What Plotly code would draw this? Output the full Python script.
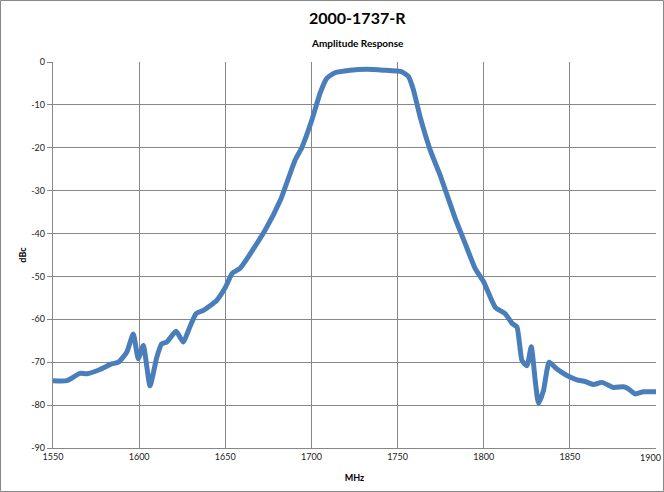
import plotly.graph_objects as go

freq_mhz = [1550, 1558, 1565.7, 1569.6, 1577.3, 1584, 1588, 1592.8, 1596.6, 1599.5, 1602.4,
            1606.3, 1610.2, 1613.1, 1616, 1621.4, 1625.7, 1628.6, 1633, 1637.3, 1645, 1650,
            1654, 1658.6, 1673, 1682, 1690.5, 1694.4, 1700.2, 1705, 1708.9, 1713.7, 1722.5,
            1732, 1741.8, 1752.5, 1756.3, 1759.2, 1763.1, 1769, 1774.7, 1783.4, 1789.2, 1795,
            1800, 1806.7, 1812.5, 1816.4, 1819.3, 1822.2, 1825.1, 1827.6, 1829.9, 1831.8,
            1834.7, 1838, 1842.5, 1848.3, 1854.1, 1858.9, 1863.7, 1868.6, 1875.3, 1881.1,
            1884, 1887.9, 1892.7, 1900]
amp_dbc = [-74.3, -74.3, -72.6, -72.7, -71.7, -70.4, -70.0, -67.7, -63.4, -69.2, -66.1,
           -75.5, -68.9, -65.7, -65.3, -62.8, -65.3, -62.6, -58.7, -57.9, -55.6, -52.6,
           -49.3, -48.1, -39.3, -32.2, -22.9, -20.0, -13.6, -7.3, -3.8, -2.5, -1.9,
           -1.7, -1.9, -2.3, -3.4, -6.5, -12.8, -20.6, -26.4, -36.4, -42.3, -48.1,
           -51.3, -57.2, -58.7, -60.9, -61.8, -69.6, -70.8, -66.4, -74.3, -79.6,
           -76.6, -70.0, -71.6, -73.1, -74.1, -74.5, -75.2, -74.7, -75.9, -75.7,
           -76.2, -77.4, -76.9, -76.9]

x_ticks = [1550, 1600, 1650, 1700, 1750, 1800, 1850, 1900]
y_ticks = [0, -10, -20, -30, -40, -50, -60, -70, -80, -90]

FONT = "Lato"
W, H = 664, 492
L, R, T, B = 53, 8, 62, 44
PW, PH = W - L - R, H - T - B
TICKFONT = dict(family=FONT, size=9, color="#222222")

fig = go.Figure()
fig.add_trace(go.Scatter(
    x=freq_mhz, y=amp_dbc, mode="lines",
    line=dict(color="#4a7ebb", width=5, shape="spline", smoothing=0.5),
    showlegend=False, hoverinfo="skip"))

fig.update_layout(
    width=W, height=H,
    margin=dict(l=L, r=R, t=T, b=B, autoexpand=False),
    paper_bgcolor="white", plot_bgcolor="white",
    font=dict(family=FONT, color="#222222"),
    xaxis=dict(range=[1550, 1900], tickvals=x_ticks, ticktext=[str(v) for v in x_ticks],
               showgrid=True, gridcolor="#878787", gridwidth=1.3,
               showline=True, linecolor="#878787", linewidth=1.3,
               ticks="", zeroline=False, automargin=False,
               tickfont=TICKFONT,
               title=dict(text="<b>MHz</b>", font=dict(family=FONT, size=9, color="black"), standoff=13)),
    yaxis=dict(range=[-90, 0], tickvals=y_ticks, ticktext=[str(v) for v in y_ticks],
               showgrid=True, gridcolor="#878787", gridwidth=1.3,
               showline=True, linecolor="#878787", linewidth=1.3,
               ticks="outside", ticklen=5, tickcolor="#878787", tickwidth=1.3,
               zeroline=False, automargin=False,
               tickfont=TICKFONT,
               title=dict(text="<b>dBc</b>", font=dict(family=FONT, size=9, color="black"), standoff=3)),
)

# last x tick label, kept inside the chart edge
fig.add_annotation(text=str(x_ticks[-1]), xref="x", yref="paper", x=x_ticks[-1], y=0,
                   xshift=7, yshift=-2, showarrow=False, xanchor="right", yanchor="top",
                   font=TICKFONT)

fig.add_annotation(text="<b>2000-1737-R</b>", xref="paper", yref="paper",
                   x=(357 - L) / PW, y=(H - 17 - B) / PH,
                   showarrow=False, xanchor="center", yanchor="middle",
                   font=dict(family=FONT, size=16, color="black"))
fig.add_annotation(text="<b>Amplitude Response</b>", xref="paper", yref="paper",
                   x=(357 - L) / PW, y=(H - 43 - B) / PH,
                   showarrow=False, xanchor="center", yanchor="middle",
                   font=dict(family=FONT, size=10, color="black"))

# outer chart frame
fig.add_shape(type="rect", xref="paper", yref="paper",
              x0=(0.5 - L) / PW, x1=(W - 0.5 - L) / PW,
              y0=-(B - 0.5) / PH, y1=(H - 0.5 - B) / PH,
              line=dict(color="#878787", width=1), layer="below")

fig.write_html("out.html", config={"displayModeBar": False},
               post_script="document.body.style.margin='0';document.body.style.overflow='hidden';")
